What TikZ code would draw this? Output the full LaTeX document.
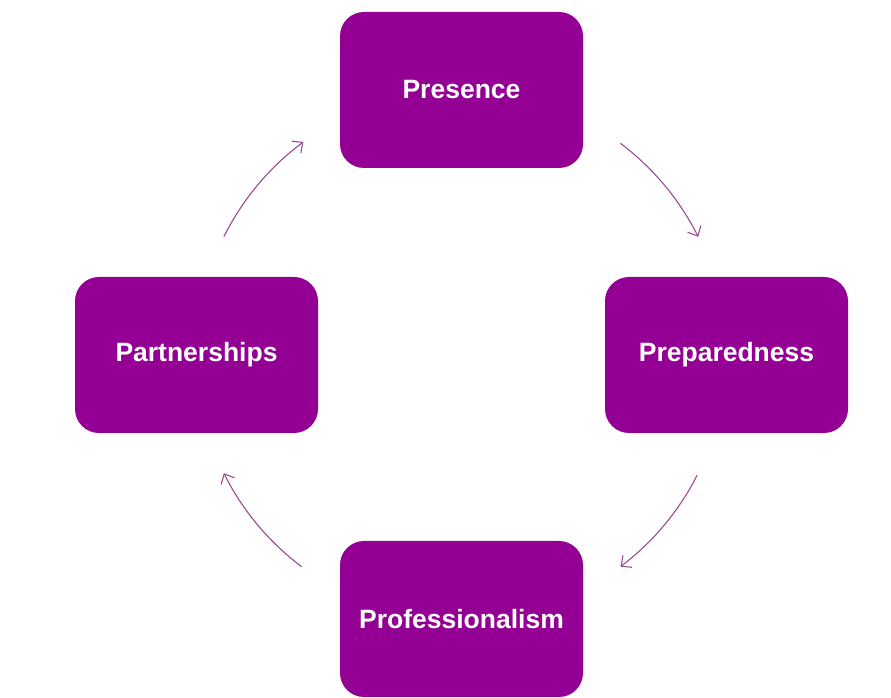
\documentclass[tikz,border=0pt]{standalone}
\usepackage{fontspec}
\setmainfont{Liberation Sans}
\usetikzlibrary{arrows.meta}
\definecolor{boxpurple}{RGB}{148,0,148}
\definecolor{arrpurple}{RGB}{155,75,145}
\tikzset{
  pbox/.style={fill=boxpurple, draw=none, rounded corners=24pt, minimum width=243pt, minimum height=156pt, inner sep=0pt, text=white, font=\fontsize{26.5}{31}\selectfont\bfseries},
  cyc/.style={draw=arrpurple, line width=1.1pt, -{Straight Barb[length=8pt,width=15pt,line width=1.1pt]}}
}
\begin{document}
\begin{tikzpicture}[x=1pt,y=1pt]
\useasboundingbox (0,0) rectangle (891,698);
\node[pbox] (pres) at (461.5,608) {Presence};
\node[pbox] (prep) at (726.5,343) {Preparedness};
\node[pbox] (part) at (196.5,343) {Partnerships};
\node[pbox] (prof) at (461.5,79) {Professionalism};
\coordinate (O) at (461,343);
\path (O) ++(53:265) coordinate (a1);
\path (O) ++(-27:265) coordinate (a2);
\path (O) ++(-127:265) coordinate (a3);
\path (O) ++(153.5:265) coordinate (a4);
\draw[cyc] (a1) arc[start angle=53, end angle=26.5, radius=265];
\draw[cyc] (a2) arc[start angle=-27, end angle=-53, radius=265];
\draw[cyc] (a3) arc[start angle=-127, end angle=-153.5, radius=265];
\draw[cyc] (a4) arc[start angle=153.5, end angle=126.5, radius=265];
\end{tikzpicture}
\end{document}
